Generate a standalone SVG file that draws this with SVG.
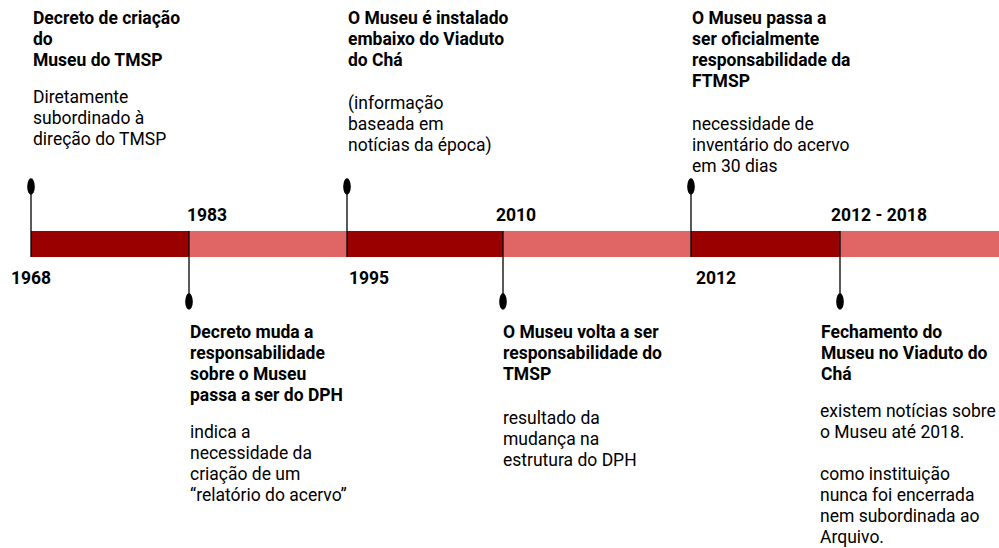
<svg xmlns="http://www.w3.org/2000/svg" width="999" height="548" viewBox="0 0 999 548">
<style>
.t{font-family:Roboto,"Liberation Sans",sans-serif;font-size:17.5px;fill:#000}
.b{font-weight:bold}
.y{font-family:Roboto,"Liberation Sans",sans-serif;font-size:17.5px;font-weight:bold;fill:#000}
.dk{fill:#990000}
.lt{fill:#e06666}
.st{stroke:#000;stroke-width:1.3}
</style>
<rect width="999" height="548" fill="#fff"/>
<g id="bar">
<rect class="dk" x="31" y="231" width="158" height="26"/>
<rect class="lt" x="189" y="231" width="158" height="26"/>
<rect class="dk" x="347" y="231" width="156" height="26"/>
<rect class="lt" x="503" y="231" width="188" height="26"/>
<rect class="dk" x="691" y="231" width="149" height="26"/>
<rect class="lt" x="840" y="231" width="159" height="26"/>
</g>
<g id="connectors">
<line class="st" x1="31" y1="190" x2="31" y2="257"/>
<ellipse cx="31" cy="186.5" rx="3.8" ry="8.3"/>
<line class="st" x1="347" y1="190" x2="347" y2="257"/>
<ellipse cx="347" cy="186.5" rx="3.8" ry="8.3"/>
<line class="st" x1="691" y1="190" x2="691" y2="257"/>
<ellipse cx="691" cy="186.5" rx="3.8" ry="8.3"/>
<line class="st" x1="189" y1="231" x2="189" y2="298"/>
<ellipse cx="189" cy="301.5" rx="3.8" ry="8.3"/>
<line class="st" x1="503" y1="231" x2="503" y2="298"/>
<ellipse cx="503" cy="301.5" rx="3.8" ry="8.3"/>
<line class="st" x1="840" y1="231" x2="840" y2="298"/>
<ellipse cx="840" cy="301.5" rx="3.8" ry="8.3"/>
</g>
<g id="years">
<text class="y" x="11" y="284">1968</text>
<text class="y" x="187" y="221">1983</text>
<text class="y" x="349" y="284">1995</text>
<text class="y" x="496" y="221">2010</text>
<text class="y" x="696" y="284">2012</text>
<text class="y" x="831" y="221">2012 - 2018</text>
</g>
<g id="n1968">
<text class="t b"><tspan x="33" y="24">Decreto de criação</tspan><tspan x="33" y="45">do</tspan><tspan x="33" y="66">Museu do TMSP</tspan></text>
<text class="t"><tspan x="33" y="103">Diretamente</tspan><tspan x="33" y="124">subordinado à</tspan><tspan x="33" y="145">direção do TMSP</tspan></text>
</g>
<g id="n1983">
<text class="t b"><tspan x="190" y="338.3">Decreto muda a</tspan><tspan x="190" y="359.3">responsabilidade</tspan><tspan x="190" y="380.3">sobre o Museu</tspan><tspan x="190" y="401.3">passa a ser do DPH</tspan></text>
<text class="t"><tspan x="190" y="437.5">indica a</tspan><tspan x="190" y="458.5">necessidade da</tspan><tspan x="190" y="479.5">criação de um</tspan><tspan x="190" y="500.5">“relatório do acervo”</tspan></text>
</g>
<g id="n1995">
<text class="t b"><tspan x="348" y="24">O Museu é instalado</tspan><tspan x="348" y="45">embaixo do Viaduto</tspan><tspan x="348" y="66">do Chá</tspan></text>
<text class="t"><tspan x="348" y="109">(informação</tspan><tspan x="348" y="130">baseada em</tspan><tspan x="348" y="151">notícias da época)</tspan></text>
</g>
<g id="n2010">
<text class="t b"><tspan x="503" y="338.3">O Museu volta a ser</tspan><tspan x="503" y="359.3">responsabilidade do</tspan><tspan x="503" y="380.3">TMSP</tspan></text>
<text class="t"><tspan x="503" y="423.5">resultado da</tspan><tspan x="503" y="444.5">mudança na</tspan><tspan x="503" y="465.5">estrutura do DPH</tspan></text>
</g>
<g id="n2012">
<text class="t b"><tspan x="692" y="24">O Museu passa a</tspan><tspan x="692" y="45">ser oficialmente</tspan><tspan x="692" y="66">responsabilidade da</tspan><tspan x="692" y="87">FTMSP</tspan></text>
<text class="t"><tspan x="692" y="129.5">necessidade de</tspan><tspan x="692" y="150.5">inventário do acervo</tspan><tspan x="692" y="171.5">em 30 dias</tspan></text>
</g>
<g id="n2018">
<text class="t b"><tspan x="821" y="338.3">Fechamento do</tspan><tspan x="821" y="359.3">Museu no Viaduto do</tspan><tspan x="821" y="380.3">Chá</tspan></text>
<text class="t"><tspan x="820" y="417">existem notícias sobre</tspan><tspan x="820" y="438">o Museu até 2018.</tspan><tspan x="820" y="480">como instituição</tspan><tspan x="820" y="501">nunca foi encerrada</tspan><tspan x="820" y="522">nem subordinada ao</tspan><tspan x="820" y="543">Arquivo.</tspan></text>
</g>
</svg>
